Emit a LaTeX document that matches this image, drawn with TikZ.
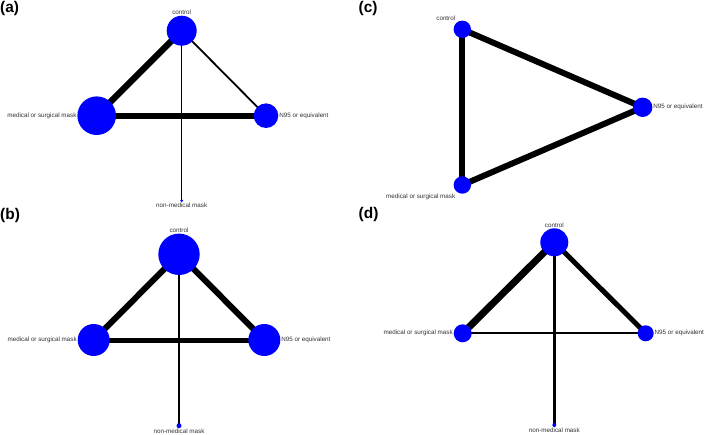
\documentclass[tikz,border=0pt]{standalone}
\usepackage{fontspec}
\setmainfont{Liberation Sans}
\pgfdeclarelayer{bg}
\pgfsetlayers{bg,main}
\begin{document}
\begin{tikzpicture}[x=1bp,y=-1bp,
  nd/.style={circle, fill=blue, draw=none, inner sep=0pt},
  lbl/.style={font=\fontsize{6.3}{7}\selectfont, text=black!80, inner sep=0.6pt},
  plbl/.style={font=\fontsize{15.5}{17}\selectfont\bfseries, inner sep=0pt, anchor=west},
  edge/.style={draw=black, line cap=butt}]
\useasboundingbox (0,0) rectangle (709,435);
\begin{pgfonlayer}{bg}
\fill[white] (0,0) rectangle (709,435);
\end{pgfonlayer}

% panel labels
\node[plbl] (pa) at (0,8.3) {(a)};
\node[plbl] (pb) at (0,215.5) {(b)};
\node[plbl] (pc) at (358.5,8.5) {(c)};
\node[plbl] (pd) at (358.5,214.5) {(d)};

% ---------- (a) ----------
\node[nd, minimum size=30bp] (ac) at (181.7,30.7) {};
\node[nd, minimum size=38.6bp] (am) at (96.7,115.7) {};
\node[nd, minimum size=24.6bp] (an) at (266,115.7) {};
\node[nd, minimum size=3bp] (ax) at (181.7,200.7) {};
\node[lbl, anchor=south] (ac-l) at (ac.north) {control};
\node[lbl, anchor=east] (am-l) at (am.west) {medical or surgical mask};
\node[lbl, anchor=west] (an-l) at (an.east) {N95 or equivalent};
\node[lbl, anchor=north] (ax-l) at (ax.south) {non-medical mask};
\begin{pgfonlayer}{bg}
\draw[edge, line width=6.5bp] (ac.center) -- (am.center);
\draw[edge, line width=6.2bp] (am.center) -- (an.center);
\draw[edge, line width=1.8bp] (ac.center) -- (an.center);
\draw[edge, line width=1.2bp] (ac.center) -- (ax.center);
\end{pgfonlayer}

% ---------- (b) ----------
\node[nd, minimum size=41.4bp] (bc) at (179,254.3) {};
\node[nd, minimum size=32bp] (bm) at (93.7,340) {};
\node[nd, minimum size=32bp] (bn) at (264.3,340) {};
\node[nd, minimum size=5bp] (bx) at (179,425.7) {};
\node[lbl, anchor=south] (bc-l) at (bc.north) {control};
\node[lbl, anchor=east] (bm-l) at (bm.west) {medical or surgical mask};
\node[lbl, anchor=west] (bn-l) at (bn.east) {N95 or equivalent};
\node[lbl, anchor=north] (bx-l) at (bx.south) {non-medical mask};
\begin{pgfonlayer}{bg}
\draw[edge, line width=6bp] (bc.center) -- (bm.center);
\draw[edge, line width=6bp] (bc.center) -- (bn.center);
\draw[edge, line width=5bp] (bm.center) -- (bn.center);
\draw[edge, line width=2.3bp] (bc.center) -- (bx.center);
\end{pgfonlayer}

% ---------- (c) ----------
\node[nd, minimum size=17.4bp] (cc) at (462.3,29.3) {};
\node[nd, minimum size=19.4bp] (cn) at (642.7,107.3) {};
\node[nd, minimum size=17.4bp] (cm) at (462.3,185) {};
\node[lbl, anchor=south east, yshift=1.5bp] (cc-l) at (cc.north west) {control};
\node[lbl, anchor=west] (cn-l) at (cn.east) {N95 or equivalent};
\node[lbl, anchor=north east, yshift=-2bp] (cm-l) at (cm.south west) {medical or surgical mask};
\begin{pgfonlayer}{bg}
\draw[edge, line width=6bp] (cc.center) -- (cn.center);
\draw[edge, line width=6bp] (cc.center) -- (cm.center);
\draw[edge, line width=6bp] (cm.center) -- (cn.center);
\end{pgfonlayer}

% ---------- (d) ----------
\node[nd, minimum size=28bp] (dc) at (554.3,242.3) {};
\node[nd, minimum size=18bp] (dm) at (462.7,333.3) {};
\node[nd, minimum size=16bp] (dn) at (645.7,333.3) {};
\node[nd, minimum size=4bp] (dx) at (554.3,425) {};
\node[lbl, anchor=south] (dc-l) at (dc.north) {control};
\node[lbl, anchor=east] (dm-l) at (dm.west) {medical or surgical mask};
\node[lbl, anchor=west] (dn-l) at (dn.east) {N95 or equivalent};
\node[lbl, anchor=north] (dx-l) at (dx.south) {non-medical mask};
\begin{pgfonlayer}{bg}
\draw[edge, line width=7bp] (dc.center) -- (dm.center);
\draw[edge, line width=5bp] (dc.center) -- (dn.center);
\draw[edge, line width=2.3bp] (dm.center) -- (dn.center);
\draw[edge, line width=2.8bp] (dc.center) -- (dx.center);
\end{pgfonlayer}
\end{tikzpicture}
\end{document}
